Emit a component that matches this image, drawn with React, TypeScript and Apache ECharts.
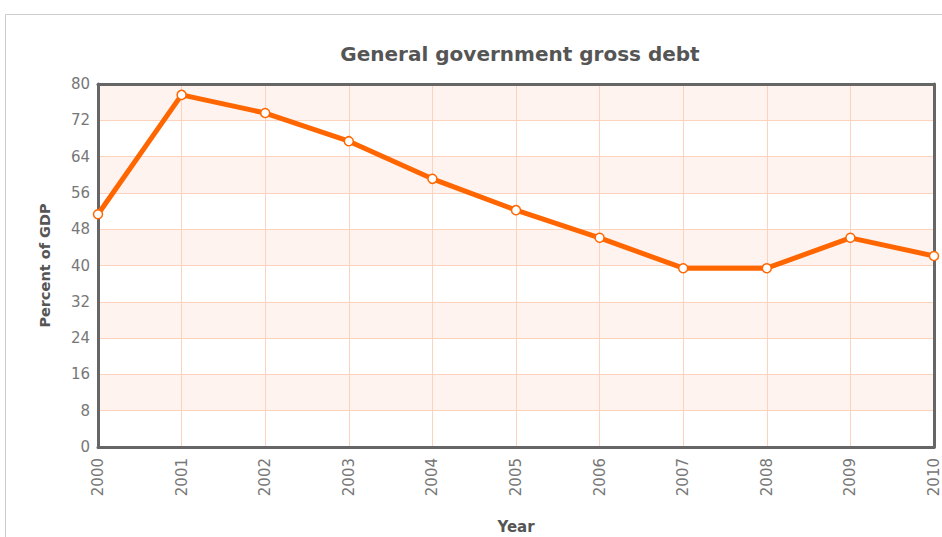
import React, { useEffect, useRef } from "react";
import * as echarts from "echarts";

const years = ["2000", "2001", "2002", "2003", "2004", "2005", "2006", "2007", "2008", "2009", "2010"];
const debt = [51.3, 77.6, 73.6, 67.4, 59.1, 52.2, 46.1, 39.4, 39.4, 46.1, 42.1];
const title = "General government gross debt";
const yName = "Percent of GDP";
const xName = "Year";

export default function App() {
  const ref = useRef<HTMLDivElement>(null);
  useEffect(() => {
    const chart = echarts.init(ref.current!, null, { renderer: "svg" });
    chart.setOption({
      animation: false,
      backgroundColor: "#ffffff",
      textStyle: { fontFamily: "DejaVu Sans" },
      graphic: [
        {
          type: "rect",
          shape: { x: 5.5, y: 14.5, width: 1000, height: 1000 },
          style: { fill: "none", stroke: "#cccccc", lineWidth: 1 },
          z: -10,
        },
      ],
      title: {
        text: title,
        left: 515,
        top: 39,
        textAlign: "center",
        textStyle: { fontSize: 20, fontWeight: "bold", color: "#555555", fontFamily: "DejaVu Sans" },
      },
      grid: {
        left: 98,
        right: 8,
        top: 84,
        bottom: 90,
        outerBoundsMode: "none",
        containLabel: false,
        show: false,
      },
      xAxis: [
        {
          type: "category",
          data: years,
          boundaryGap: false,
          name: xName,
          nameLocation: "middle",
          nameGap: 72,
          nameTextStyle: { fontSize: 15, fontWeight: "bold", color: "#555555" },
          axisLine: { show: true, onZero: false, lineStyle: { color: "#666666", width: 3 } },
          axisTick: { show: false },
          axisLabel: { rotate: 90, color: "#777777", fontSize: 15, margin: 11 },
          splitLine: { show: true, lineStyle: { color: "#fdd3bd", width: 1 } },
          z: 3,
        },
        {
          type: "category",
          data: years,
          boundaryGap: false,
          position: "top",
          axisLine: { show: true, onZero: false, lineStyle: { color: "#666666", width: 3 } },
          axisTick: { show: false },
          axisLabel: { show: false },
          splitLine: { show: false },
          z: 3,
        },
      ],
      yAxis: [
        {
          type: "value",
          min: 0,
          max: 80,
          interval: 8,
          name: yName,
          nameLocation: "middle",
          nameGap: 46,
          nameTextStyle: { fontSize: 14.5, fontWeight: "bold", color: "#555555" },
          axisLine: { show: true, onZero: false, lineStyle: { color: "#666666", width: 3 } },
          axisTick: { show: false },
          axisLabel: { color: "#777777", fontSize: 15, margin: 8 },
          splitLine: { show: true, lineStyle: { color: "#fdd3bd", width: 1 } },
          splitArea: { show: true, areaStyle: { color: ["rgba(255,255,255,0)", "#fef3ee"] } },
          z: 3,
        },
        {
          type: "value",
          min: 0,
          max: 80,
          interval: 8,
          position: "right",
          axisLine: { show: true, onZero: false, lineStyle: { color: "#666666", width: 3 } },
          axisTick: { show: false },
          axisLabel: { show: false },
          splitLine: { show: false },
          splitArea: { show: false },
          z: 3,
        },
      ],
      series: [
        {
          type: "line",
          data: debt,
          symbol: "circle",
          symbolSize: 9,
          showAllSymbol: true,
          lineStyle: { color: "#ff6600", width: 5 },
          itemStyle: { color: "#ffffff", borderColor: "#ff6600", borderWidth: 1.5 },
          z: 5,
        },
      ],
    });
    return () => chart.dispose();
  }, []);
  return <div ref={ref} style={{ position: "fixed", left: 0, top: 0, width: 942, height: 537 }} />;
}
